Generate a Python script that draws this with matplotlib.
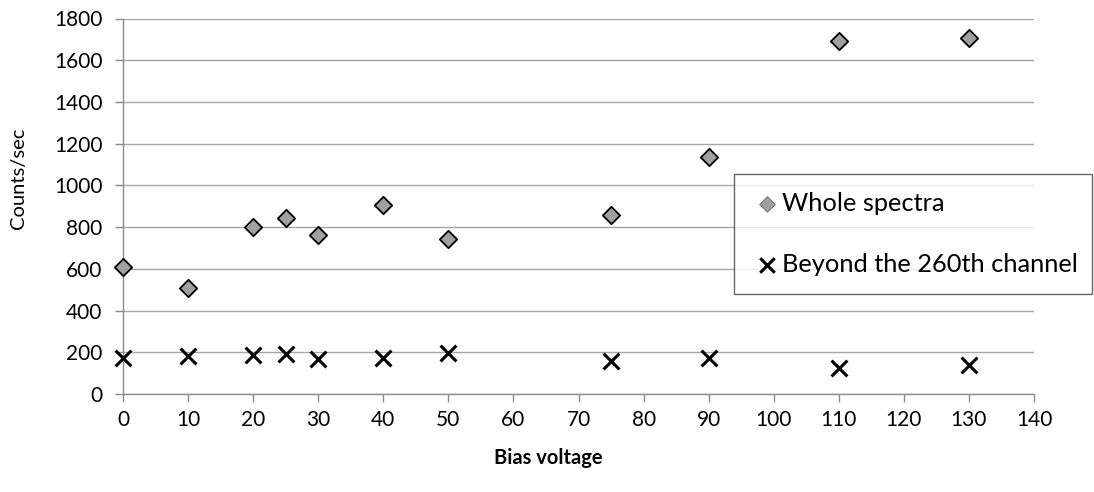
import matplotlib
matplotlib.use("Agg")
import matplotlib.pyplot as plt

# Bias voltage (V) and measured count rates
bias_voltage = [0, 10, 20, 25, 30, 40, 50, 75, 90, 110, 130]
whole_spectra = [610, 510, 800, 845, 760, 908, 742, 857, 1136, 1691, 1707]
beyond_260 = [171, 182, 187, 193, 166, 171, 195, 160, 171, 123, 139]

x_ticks = list(range(0, 141, 10))
y_ticks = list(range(0, 1801, 200))

plt.rcParams['font.family'] = ['Lato', 'DejaVu Sans']

W, H = 1094, 492
fig = plt.figure(figsize=(W / 100, H / 100), dpi=100)
ax = fig.add_axes([123 / W, 1 - 394 / H, (1034 - 123) / W, (394 - 18.5) / H])

grid_c = '#a6a6a6'
axis_c = '#8c8c8c'

ax.scatter(bias_voltage, whole_spectra, marker='D', s=78, facecolor='#a0a0a0',
           edgecolor='black', linewidth=1.3, zorder=3, clip_on=False,
           label='Whole spectra')
ax.scatter(bias_voltage, beyond_260, marker='x', s=130, color='black',
           linewidth=2.2, zorder=3, clip_on=False,
           label='Beyond the 260th channel')

ax.set_xlim(0, 140)
ax.set_ylim(0, 1800)
ax.set_xticks(x_ticks)
ax.set_yticks(y_ticks)
ax.yaxis.grid(True, color=grid_c, linewidth=1.0)
ax.set_axisbelow(True)

for side in ('top', 'right'):
    ax.spines[side].set_visible(False)
for side in ('left', 'bottom'):
    ax.spines[side].set_color(axis_c)
    ax.spines[side].set_linewidth(1.0)

ax.tick_params(axis='both', direction='out', length=5.8, width=1.0, color=axis_c,
               labelsize=15, labelcolor='black')
ax.tick_params(axis='x', pad=6)
ax.tick_params(axis='y', pad=9)

ax.set_xlabel('Bias voltage', fontsize=14.5, fontweight='bold', va='center', ha='center')
ax.set_ylabel('Counts/sec', fontsize=14.5, va='center', ha='center')
ax.xaxis.set_label_coords(548 / W, 1 - 458 / H, transform=fig.transFigure)
ax.yaxis.set_label_coords(19 / W, 1 - 178 / H, transform=fig.transFigure)

leg = fig.legend(loc='upper left',
                 bbox_to_anchor=(734 / W, 1 - 174 / H, (1092 - 734) / W, 0),
                 bbox_transform=fig.transFigure, mode='expand',
                 fontsize=18.3, frameon=True, fancybox=False, edgecolor='#404040',
                 labelspacing=1.5, handletextpad=0.0, handlelength=1.2,
                 borderpad=0.7, borderaxespad=0)
leg.get_frame().set_linewidth(1.0)
leg.legend_handles[0].set_sizes([62])
leg.legend_handles[0].set_linewidth(0.8)
leg.legend_handles[0].set_edgecolor('#7a7a7a')
leg.legend_handles[1].set_sizes([110])

fig.savefig('out.png', dpi=100, facecolor='white')
